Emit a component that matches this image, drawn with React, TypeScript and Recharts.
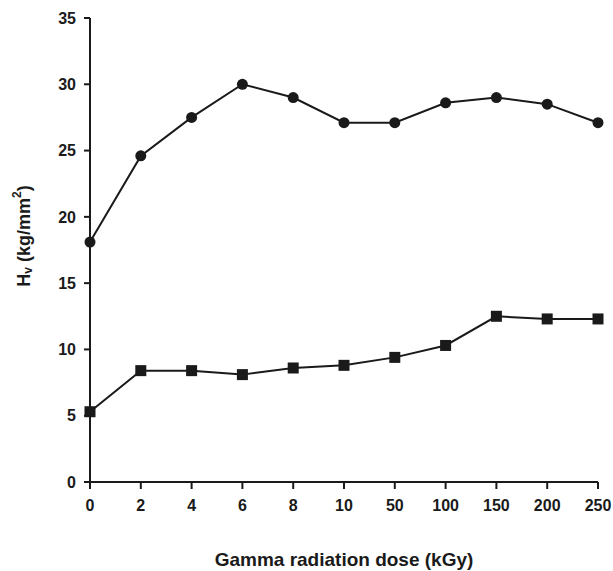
import React from "react";
import { LineChart, Line, XAxis, YAxis, Label } from "recharts";

const doses = ["0", "2", "4", "6", "8", "10", "50", "100", "150", "200", "250"];
const circleSeries = [18.1, 24.6, 27.5, 30.0, 29.0, 27.1, 27.1, 28.6, 29.0, 28.5, 27.1];
const squareSeries = [5.3, 8.4, 8.4, 8.1, 8.6, 8.8, 9.4, 10.3, 12.5, 12.3, 12.3];
const yTicks = [0, 5, 10, 15, 20, 25, 30, 35];

const data = doses.map((d, i) => ({ dose: d, circle: circleSeries[i], square: squareSeries[i] }));

if (typeof document !== "undefined") {
  document.body.style.margin = "0";
}

const FONT = "'Liberation Sans', Arial, sans-serif";

const SquareDot = (props: any) => {
  const { cx, cy, index } = props;
  if (cx == null || cy == null) return null;
  return <rect key={`sq-${index}`} x={cx - 5.5} y={cy - 5.5} width={11} height={11} fill="#1a1a1a" />;
};

const CircleDot = (props: any) => {
  const { cx, cy, index } = props;
  if (cx == null || cy == null) return null;
  return <circle key={`ci-${index}`} cx={cx} cy={cy} r={5.5} fill="#1a1a1a" />;
};

const YLabel = (props: any) => {
  const { viewBox } = props;
  const cy = viewBox.y + viewBox.height / 2 - 14;
  const x = 24;
  return (
    <text
      x={x}
      y={cy}
      transform={`rotate(-90, ${x}, ${cy})`}
      textAnchor="middle"
      dominantBaseline="central"
      fontFamily={FONT}
      fontWeight="bold"
      fontSize={18}
      fill="#1a1a1a"
    >
      <tspan>H</tspan>
      <tspan fontSize={12} dy={4}>v</tspan>
      <tspan dy={-4}> (kg/mm</tspan>
      <tspan fontSize={12} dy={-7}>2</tspan>
      <tspan dy={7}>)</tspan>
    </text>
  );
};

export default function App() {
  const tickStyle = { fontFamily: FONT, fontWeight: "bold", fontSize: 16, fill: "#1a1a1a" };
  return (
    <div style={{ width: 613, height: 571 }}>
      <LineChart
        width={613}
        height={571}
        data={data}
        margin={{ top: 18, right: 15, bottom: 0, left: 0 }}
      >
        <XAxis
          dataKey="dose"
          type="category"
          padding={{ left: 0, right: 0 }}
          axisLine={{ stroke: "#1a1a1a", strokeWidth: 2 }}
          tickLine={{ stroke: "#1a1a1a", strokeWidth: 2 }}
          tickSize={7}
          tickMargin={11}
          tick={tickStyle}
          height={89}
          interval={0}
        >
          <Label
            value="Gamma radiation dose (kGy)"
            position="insideBottom"
            offset={5}
            style={{ fontFamily: FONT, fontWeight: "bold", fontSize: 19, fill: "#1a1a1a" }}
          />
        </XAxis>
        <YAxis
          domain={[0, 35]}
          ticks={yTicks}
          interval={0}
          width={90}
          axisLine={{ stroke: "#1a1a1a", strokeWidth: 2 }}
          tickLine={{ stroke: "#1a1a1a", strokeWidth: 2 }}
          tickSize={6}
          tickMargin={8}
          tick={tickStyle}
        >
          <Label content={<YLabel />} />
        </YAxis>
        <Line
          dataKey="circle"
          stroke="#1a1a1a"
          strokeWidth={2}
          dot={<CircleDot />}
          activeDot={false}
          isAnimationActive={false}
        />
        <Line
          dataKey="square"
          stroke="#1a1a1a"
          strokeWidth={2}
          dot={<SquareDot />}
          activeDot={false}
          isAnimationActive={false}
        />
      </LineChart>
    </div>
  );
}
